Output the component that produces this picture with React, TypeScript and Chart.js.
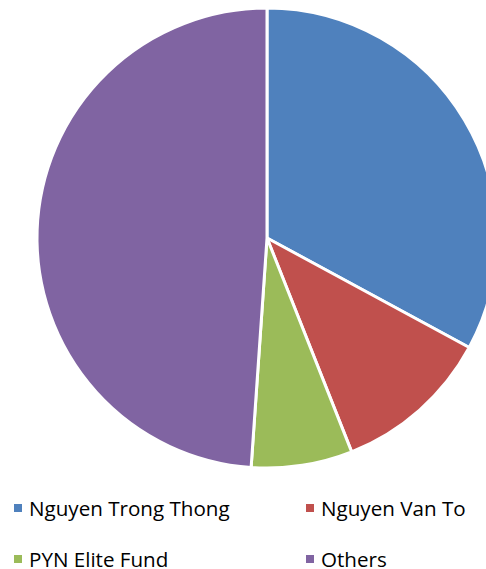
import React, { useEffect, useRef } from "react";
import { Chart, registerables } from "chart.js";

Chart.register(...registerables);

const labels = ["Nguyen Trong Thong", "Nguyen Van To", "PYN Elite Fund", "Others"];
const values = [32.9, 11.1, 7.1, 48.9];
const colors = ["#4F81BD", "#C0504D", "#9BBB59", "#8064A2"];

export default function App() {
  const ref = useRef<HTMLCanvasElement | null>(null);

  useEffect(() => {
    if (!ref.current) return;
    const chart = new Chart(ref.current, {
      type: "pie",
      data: {
        labels,
        datasets: [
          {
            data: values,
            backgroundColor: colors,
            borderColor: "#FFFFFF",
            borderWidth: 3,
            hoverOffset: 0,
          },
        ],
      },
      options: {
        animation: false,
        responsive: false,
        maintainAspectRatio: false,
        radius: 230,
        layout: { padding: 0 },
        plugins: {
          legend: { display: false },
          tooltip: { enabled: false },
        },
      },
    });
    return () => chart.destroy();
  }, []);

  const font = "'Open Sans', 'Noto Sans', sans-serif";
  const legendPos = [
    { x: 14, y: 504 },
    { x: 306, y: 504 },
    { x: 14, y: 555 },
    { x: 306, y: 555 },
  ];

  return (
    <div
      style={{
        position: "fixed",
        left: 0,
        top: 0,
        width: 486,
        height: 569,
        overflow: "hidden",
        background: "#FFFFFF",
      }}
    >
      <canvas
        ref={ref}
        width={540}
        height={480}
        style={{ position: "absolute", left: -3, top: -2, width: 540, height: 480 }}
      />
      {labels.map((l, i) => (
        <div
          key={l}
          style={{
            position: "absolute",
            left: legendPos[i].x,
            top: legendPos[i].y - 10,
            height: 28,
            display: "flex",
            alignItems: "center",
            whiteSpace: "nowrap",
            fontFamily: font,
            fontSize: 20.6,
            color: "#000000",
          }}
        >
          <span
            style={{
              display: "inline-block",
              width: 8,
              height: 8,
              background: colors[i],
              marginRight: 7,
            }}
          />
          <span>{l}</span>
        </div>
      ))}
    </div>
  );
}
